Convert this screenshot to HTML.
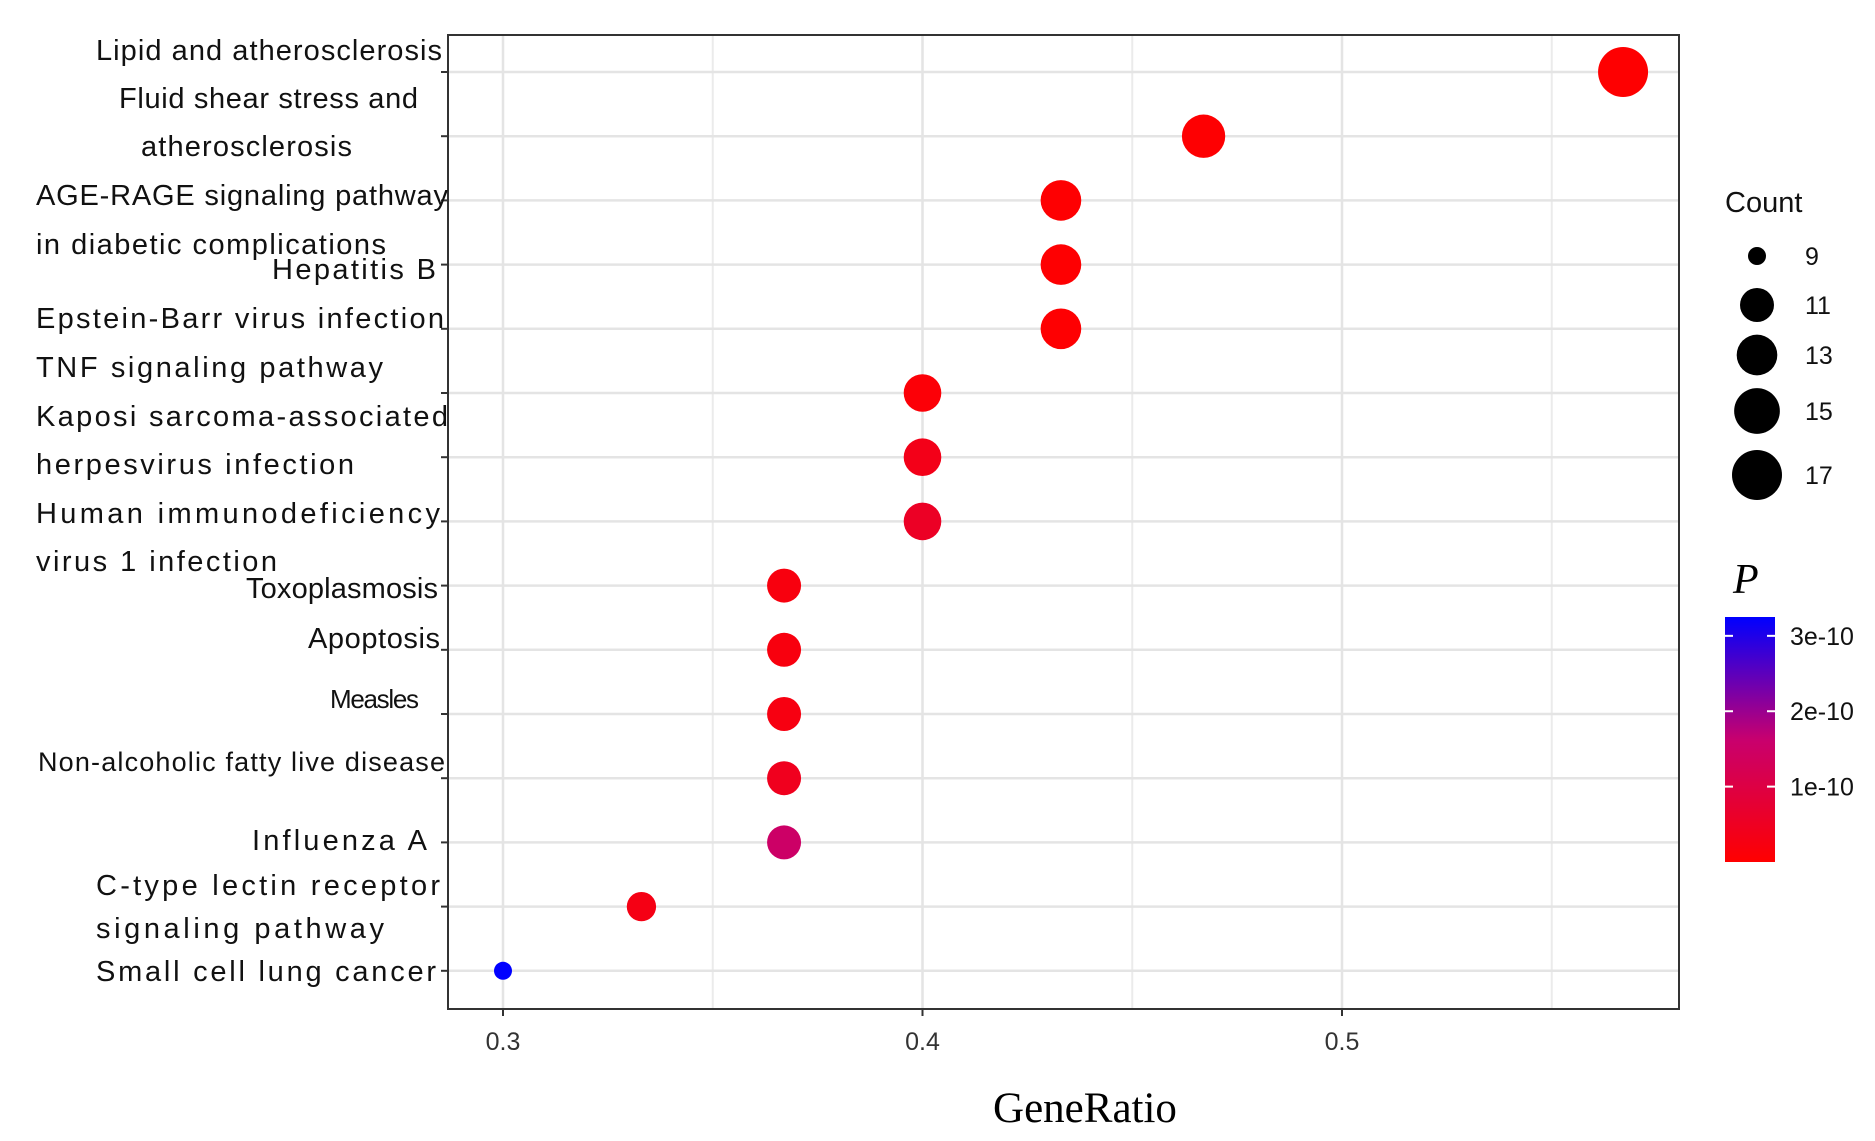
<!DOCTYPE html>
<html><head><meta charset="utf-8"><style>
html,body{margin:0;padding:0;background:#fff;}
svg{display:block;}
.yl{font-family:"Liberation Sans","Noto Sans CJK SC",sans-serif;font-size:29px;fill:#111;}
.tk{font-family:"Liberation Sans",sans-serif;font-size:25px;fill:#333;}
</style></head><body>
<svg id="chart" width="1875" height="1141" viewBox="0 0 1875 1141" xmlns="http://www.w3.org/2000/svg">
<rect x="0" y="0" width="1875" height="1141" fill="#fff"/>
<g id="grid"></g>
<g id="dots"></g>
<rect x="448" y="35" width="1231" height="974" fill="none" stroke="#333" stroke-width="2"/>
<g id="ylabels">
<text class="yl" x="96" y="60" textLength="346">Lipid and atherosclerosis</text>
<text class="yl" x="119" y="108" textLength="299">Fluid shear stress and</text>
<text class="yl" x="141" y="156" textLength="211">atherosclerosis</text>
<text class="yl" x="36" y="205" textLength="412">AGE-RAGE signaling pathway</text>
<text class="yl" x="36" y="254" textLength="350">in diabetic complications</text>
<text class="yl" x="272" y="279" textLength="164">Hepatitis B</text>
<text class="yl" x="36" y="328" textLength="408">Epstein-Barr virus infection</text>
<text class="yl" x="36" y="377" textLength="347">TNF signaling pathway</text>
<text class="yl" x="36" y="426" textLength="412">Kaposi sarcoma-associated</text>
<text class="yl" x="36" y="474" textLength="318">herpesvirus infection</text>
<text class="yl" x="36" y="523" textLength="404">Human immunodeficiency</text>
<text class="yl" x="36" y="571" textLength="241">virus 1 infection</text>
<text class="yl" x="246" y="598" textLength="192">Toxoplasmosis</text>
<text class="yl" x="308" y="648" textLength="132">Apoptosis</text>
<text class="yl" x="330" y="708" textLength="89" style="font-size:26px">Measles</text>
<text class="yl" x="38" y="771" textLength="407" style="font-size:27px">Non-alcoholic fatty live disease</text>
<text class="yl" x="252" y="850" textLength="175">Influenza A</text>
<text class="yl" x="96" y="895" textLength="344">C-type lectin receptor</text>
<text class="yl" x="96" y="938" textLength="288">signaling pathway</text>
<text class="yl" x="96" y="981" textLength="340">Small cell lung cancer</text>
</g>
<g id="xticks"></g>
<text x="1085" y="1122" text-anchor="middle" style="font-family:'Liberation Serif',serif;font-size:43px;fill:#000">GeneRatio</text>
<g id="legend">
<text x="1725" y="212" style="font-family:'Liberation Sans',sans-serif;font-size:29px;fill:#111">Count</text>
<text x="1733" y="593" style="font-family:'Liberation Serif',serif;font-style:italic;font-size:42px;fill:#000">P</text>
</g>
<defs><linearGradient id="pg" x1="0" y1="1" x2="0" y2="0">
<stop offset="0" stop-color="#ff0000"/><stop offset="0.5" stop-color="#c8006e"/><stop offset="1" stop-color="#0000ff"/></linearGradient></defs>
<rect x="1725" y="617" width="50" height="245" fill="url(#pg)"/>
<g id="cbticks"></g>
</svg>
<script>
const categories = ["Lipid and atherosclerosis","Fluid shear stress and atherosclerosis","AGE-RAGE signaling pathway in diabetic complications","Hepatitis B","Epstein-Barr virus infection","TNF signaling pathway","Kaposi sarcoma-associated herpesvirus infection","Human immunodeficiency virus 1 infection","Toxoplasmosis","Apoptosis","Measles","Non-alcoholic fatty live disease","Influenza A","C-type lectin receptor signaling pathway","Small cell lung cancer"];
const geneRatio = [0.567,0.467,0.433,0.433,0.433,0.4,0.4,0.4,0.367,0.367,0.367,0.367,0.367,0.333,0.3];
const counts = [17,14,13,13,13,12,12,12,11,11,11,11,11,10,9];
const pvals = [0.02e-10,0.03e-10,0.03e-10,0.03e-10,0.03e-10,0.1e-10,0.35e-10,0.55e-10,0.2e-10,0.2e-10,0.25e-10,0.45e-10,1.5e-10,0.3e-10,3.25e-10];
const xTicks = [0.3,0.4,0.5];
const xTickLabels = ["0.3","0.4","0.5"];
const xMinor = [0.35,0.45,0.55];
const sizeBreaks = [9,11,13,15,17];
const pBreaks = [1e-10,2e-10,3e-10];
const pBreakLabels = ["1e-10","2e-10","3e-10"];

const NS="http://www.w3.org/2000/svg";
const X = v => 503 + (v-0.3)*4195;
const Y = i => 72 + i*64.2;
const R = c => 9 + 16*Math.sqrt(Math.max(0,c-9)/8);
const PMIN=0, PMAX=3.25e-10;
const CB = p => 862 - (p-PMIN)/(PMAX-PMIN)*245;
function col(p){
  let t=Math.min(1,Math.max(0,(p-PMIN)/(PMAX-PMIN)));
  let a,b,u;
  if(t<0.5){a=[255,0,0];b=[200,0,110];u=t/0.5;}else{a=[200,0,110];b=[0,0,255];u=(t-0.5)/0.5;}
  return "rgb("+a.map((v,k)=>Math.round(v+(b[k]-v)*u)).join(",")+")";
}
function mk(tag,attrs,parent){const e=document.createElementNS(NS,tag);for(const k in attrs)e.setAttribute(k,attrs[k]);parent.appendChild(e);return e;}
const grid=document.getElementById('grid');
xMinor.forEach(v=>{const l=mk('line',{x1:X(v),x2:X(v),y1:35,y2:1009,stroke:'#ebebeb','stroke-width':2},grid);

});
xTicks.forEach(v=>{const l=mk('line',{x1:X(v),x2:X(v),y1:35,y2:1009,stroke:'#e4e4e4','stroke-width':2.5},grid);

});
categories.forEach((c,i)=>{const l=mk('line',{x1:448,x2:1679,y1:Y(i),y2:Y(i),stroke:'#e4e4e4','stroke-width':2.5},grid);


const t=mk('line',{x1:441,x2:448,y1:Y(i),y2:Y(i),stroke:'#333','stroke-width':2},grid);

});
const xt=document.getElementById('xticks');
xTicks.forEach((v,i)=>{const t=mk('line',{x1:X(v),x2:X(v),y1:1009,y2:1016,stroke:'#333','stroke-width':2},xt);


const tx=mk('text',{x:X(v),y:1050,'text-anchor':'middle',class:'tk'},xt);tx.textContent=xTickLabels[i];

});
const dots=document.getElementById('dots');
categories.forEach((c,i)=>{const d=mk('circle',{cx:X(geneRatio[i]),cy:Y(i),r:R(counts[i]),fill:col(pvals[i])},dots);

});
const lg=document.getElementById('legend');
let ly=[256,305,355,411,475];
sizeBreaks.forEach((c,i)=>{const d=mk('circle',{cx:1757,cy:ly[i],r:R(c),fill:'#000'},lg);


const t=mk('text',{x:1805,y:ly[i]+9,class:'tk',style:'fill:#111'},lg);t.textContent=c;

});
const cb=document.getElementById('cbticks');
pBreaks.forEach((p,i)=>{const y=CB(p);
const a=mk('line',{x1:1725,x2:1733,y1:y,y2:y,stroke:'#fff','stroke-width':2},cb);


const b=mk('line',{x1:1767,x2:1775,y1:y,y2:y,stroke:'#fff','stroke-width':2},cb);


const t=mk('text',{x:1790,y:y+9,class:'tk',style:'fill:#111'},cb);t.textContent=pBreakLabels[i];

});
</script>
</body></html>
